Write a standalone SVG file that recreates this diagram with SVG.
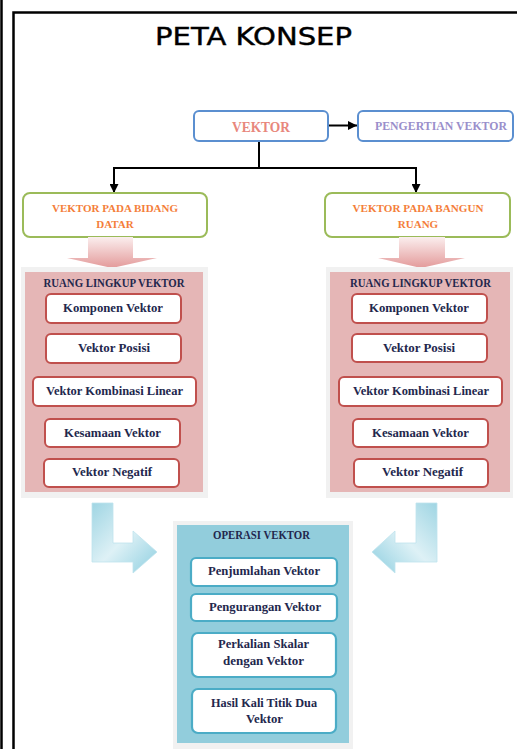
<svg xmlns="http://www.w3.org/2000/svg" width="517" height="749" viewBox="0 0 517 749">
<defs>
<style>
.frame{fill:none;stroke:#000;stroke-width:2.5}
.conn{fill:none;stroke:#000;stroke-width:2}
.t{font-family:"Liberation Serif",serif;font-weight:bold;text-anchor:middle}
.item{fill:#fff;stroke:#c0504d;stroke-width:2}
.itemb{fill:#fff;stroke:#4bacc6;stroke-width:2.2}
.dark{fill:#23274d;font-size:11.5px}
.green{fill:#fff;stroke:#9bbb59;stroke-width:2}
.orange{fill:#f47e3a;font-size:11px}
.gray{fill:#f1f1f1}
</style>
<marker id="ah" viewBox="0 0 10 10" refX="10" refY="5" markerWidth="4.5" markerHeight="4.5" orient="auto" markerUnits="strokeWidth">
<path d="M0,0 L10,5 L0,10 z" fill="#000"/>
</marker>
<linearGradient id="pinkg" x1="0" y1="0" x2="0" y2="1">
<stop offset="0" stop-color="#fbeeee"/>
<stop offset="1" stop-color="#e39a9a"/>
</linearGradient>
<linearGradient id="blueL" x1="0" y1="0" x2="1" y2="1">
<stop offset="0" stop-color="#9fd5e3"/>
<stop offset="0.5" stop-color="#def1f6"/>
<stop offset="1" stop-color="#8ecfe0"/>
</linearGradient>
<linearGradient id="blueR" x1="1" y1="0" x2="0" y2="1">
<stop offset="0" stop-color="#9fd5e3"/>
<stop offset="0.5" stop-color="#def1f6"/>
<stop offset="1" stop-color="#8ecfe0"/>
</linearGradient>
</defs>
<rect width="517" height="749" fill="#fff"/>
<line class="frame" x1="1.5" y1="0" x2="1.5" y2="749"/>
<path class="frame" d="M13.5,749 V12.5 H517"/>

<text x="155" y="45" font-family="DejaVu Sans,sans-serif" font-size="24" fill="#000" stroke="#000" stroke-width="0.4" textLength="197" lengthAdjust="spacingAndGlyphs">PETA KONSEP</text>

<g id="connectors">
<line class="conn" x1="328" y1="125.5" x2="357" y2="125.5" marker-end="url(#ah)"/>
<path class="conn" d="M259,141 V168"/>
<path class="conn" d="M114,193 V168 H416 V193" marker-end="url(#ah)"/>
<line class="conn" x1="114" y1="169" x2="114" y2="193" marker-end="url(#ah)"/>
</g>

<g id="vektor">
<rect x="194" y="111" width="134" height="30" rx="5" fill="#fff" stroke="#5b8fd0" stroke-width="2"/>
<text class="t" x="261" y="132" font-size="14" fill="#e8877c" textLength="58" lengthAdjust="spacingAndGlyphs">VEKTOR</text>
</g>
<g id="pengertian">
<rect x="358" y="111" width="155" height="30" rx="5" fill="#fff" stroke="#5b8fd0" stroke-width="2"/>
<text class="t" x="441" y="130" font-size="12" fill="#9a8fcb" textLength="132" lengthAdjust="spacingAndGlyphs">PENGERTIAN VEKTOR</text>
</g>

<g id="bidang-datar">
<rect class="green" x="23" y="193" width="184" height="44" rx="7"/>
<text class="t orange" x="115" y="212" textLength="126" lengthAdjust="spacingAndGlyphs">VEKTOR PADA BIDANG</text>
<text class="t orange" x="115" y="228">DATAR</text>
</g>
<g id="bangun-ruang">
<rect class="green" x="325" y="193" width="185" height="44" rx="7"/>
<text class="t orange" x="418" y="212" textLength="131" lengthAdjust="spacingAndGlyphs">VEKTOR PADA BANGUN</text>
<text class="t orange" x="418" y="228">RUANG</text>
</g>

<g id="arrow-pink-left">
<path d="M88,237 H133 V258 H157 L112,268 L67,258 H88 Z" fill="url(#pinkg)"/>
</g>
<g id="arrow-pink-right">
<path d="M399,237 H445 V258 H465 L421,268 L378,258 H399 Z" fill="url(#pinkg)"/>
</g>

<g id="ruang-lingkup-kiri">
<rect class="gray" x="21" y="267" width="187" height="231"/>
<rect x="25" y="272" width="178" height="220" fill="#e5b6b6"/>
<text class="t dark" x="114" y="287" textLength="141" lengthAdjust="spacingAndGlyphs">RUANG LINGKUP VEKTOR</text>
<rect class="item" x="46" y="294" width="135" height="29" rx="5"/>
<text class="t dark" x="113" y="312" textLength="100" lengthAdjust="spacingAndGlyphs">Komponen Vektor</text>
<rect class="item" x="46" y="334" width="135" height="29" rx="5"/>
<text class="t dark" x="114" y="352" textLength="72" lengthAdjust="spacingAndGlyphs">Vektor Posisi</text>
<rect class="item" x="33" y="377" width="163" height="29" rx="5"/>
<text class="t dark" x="114.5" y="395" textLength="137" lengthAdjust="spacingAndGlyphs">Vektor Kombinasi Linear</text>
<rect class="item" x="45" y="419" width="135" height="28" rx="5"/>
<text class="t dark" x="112.5" y="437" textLength="97" lengthAdjust="spacingAndGlyphs">Kesamaan Vektor</text>
<rect class="item" x="44" y="459" width="135" height="28" rx="5"/>
<text class="t dark" x="112" y="476" textLength="80" lengthAdjust="spacingAndGlyphs">Vektor Negatif</text>
</g>

<g id="ruang-lingkup-kanan">
<rect class="gray" x="326" y="267" width="187" height="231"/>
<rect x="330" y="272" width="180" height="220" fill="#e5b6b6"/>
<text class="t dark" x="420.5" y="287" textLength="141" lengthAdjust="spacingAndGlyphs">RUANG LINGKUP VEKTOR</text>
<rect class="item" x="352" y="294" width="135" height="29" rx="5"/>
<text class="t dark" x="419" y="312" textLength="100" lengthAdjust="spacingAndGlyphs">Komponen Vektor</text>
<rect class="item" x="352" y="334" width="135" height="28" rx="5"/>
<text class="t dark" x="419" y="352" textLength="72" lengthAdjust="spacingAndGlyphs">Vektor Posisi</text>
<rect class="item" x="339" y="377" width="163" height="29" rx="5"/>
<text class="t dark" x="421" y="395" textLength="136" lengthAdjust="spacingAndGlyphs">Vektor Kombinasi Linear</text>
<rect class="item" x="353" y="419" width="135" height="28" rx="5"/>
<text class="t dark" x="420.5" y="437" textLength="97" lengthAdjust="spacingAndGlyphs">Kesamaan Vektor</text>
<rect class="item" x="354" y="459" width="134" height="28" rx="5"/>
<text class="t dark" x="422.5" y="476" textLength="81" lengthAdjust="spacingAndGlyphs">Vektor Negatif</text>
</g>

<g id="arrow-blue-left">
<path d="M92,503 H113 V543 H133 V531 L157,552 L133,573 V562 H92 Z" fill="url(#blueL)" stroke="#bfe3ed" stroke-width="0.8"/>
</g>
<g id="arrow-blue-right">
<path d="M437,503 H416 V543 H395 V531 L372,552 L395,573 V562 H437 Z" fill="url(#blueR)" stroke="#bfe3ed" stroke-width="0.8"/>
</g>

<g id="operasi-vektor">
<rect class="gray" x="173" y="521" width="180" height="228"/>
<rect x="177" y="525" width="172" height="218" fill="#92cddc"/>
<text class="t dark" x="261.5" y="539" textLength="97" lengthAdjust="spacingAndGlyphs">OPERASI VEKTOR</text>
<rect class="itemb" x="191" y="558" width="146" height="28" rx="5"/>
<text class="t dark" x="264" y="575" textLength="112" lengthAdjust="spacingAndGlyphs">Penjumlahan Vektor</text>
<rect class="itemb" x="191" y="594" width="146" height="27" rx="5"/>
<text class="t dark" x="265" y="611" textLength="112" lengthAdjust="spacingAndGlyphs">Pengurangan Vektor</text>
<rect class="itemb" x="192" y="633" width="144" height="44" rx="6"/>
<text class="t dark" x="263.5" y="648" textLength="91" lengthAdjust="spacingAndGlyphs">Perkalian Skalar</text>
<text class="t dark" x="263.5" y="665" textLength="81" lengthAdjust="spacingAndGlyphs">dengan Vektor</text>
<rect class="itemb" x="192" y="689" width="144" height="44" rx="6"/>
<text class="t dark" x="264" y="707" textLength="106" lengthAdjust="spacingAndGlyphs">Hasil Kali Titik Dua</text>
<text class="t dark" x="264.5" y="723" textLength="37" lengthAdjust="spacingAndGlyphs">Vektor</text>
</g>
</svg>
